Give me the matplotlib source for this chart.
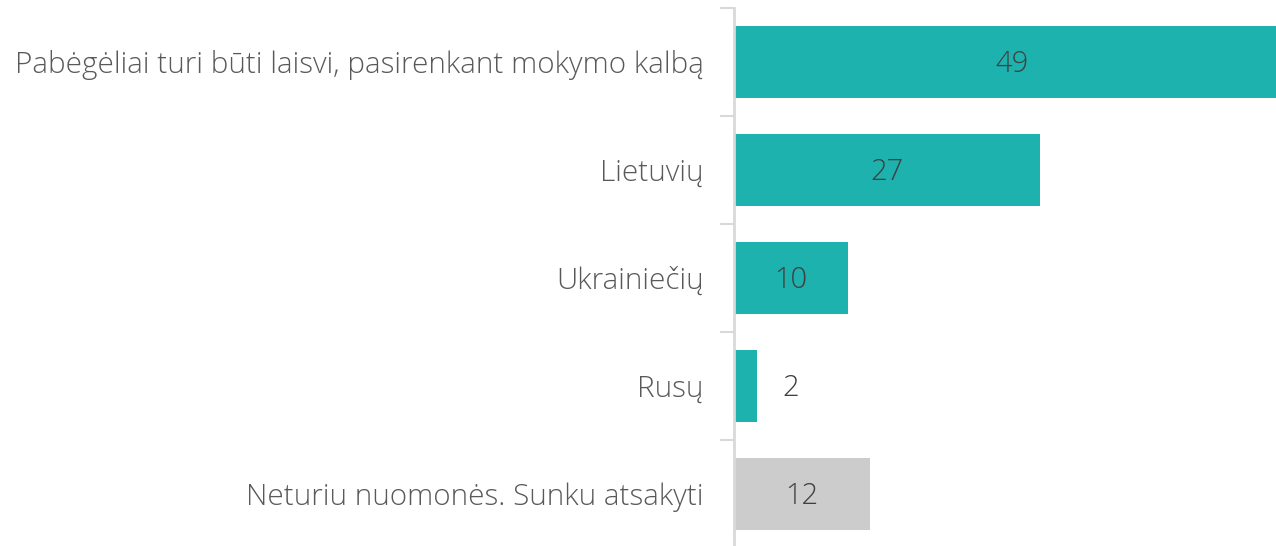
import matplotlib.pyplot as plt

categories = ["Pabėgėliai turi būti laisvi, pasirenkant mokymo kalbą",
              "Lietuvių", "Ukrainiečių", "Rusų",
              "Neturiu nuomonės. Sunku atsakyti"]
values = [49, 27, 10, 2, 12]
colors = ["#1DB2AE", "#1DB2AE", "#1DB2AE", "#1DB2AE", "#CCCCCC"]

plt.rcParams['font.family'] = ['Open Sans', 'DejaVu Sans']

fig = plt.figure(figsize=(12.76, 5.46), dpi=100)
ax = fig.add_axes([734 / 1276, -2 / 546, 1 - 734 / 1276, 540 / 546])

y = list(range(len(categories)))
ax.barh(y, values, height=0.667, color=colors, zorder=2)
ax.set_ylim(len(categories) - 0.5, -0.5)
ax.set_xlim(0, 47.75)

for yi, v in zip(y, values):
    xpos = v / 2 if v >= 5 else v + 3
    ax.text(xpos, yi + 0.02, str(v), ha='center', va='center', fontsize=21,
            color='#404040', fontweight='light')

# category boundary ticks + labels in the middle
ax.set_yticks([i - 0.5 for i in range(len(categories) + 1)])
ax.set_yticklabels([])
ax.set_yticks(y, minor=True)
ax.set_yticklabels(categories, minor=True, fontsize=21.3, color='#595959',
                   fontweight='light')
ax.tick_params(axis='y', which='major', length=10, width=1.5, color='#D9D9D9')
ax.tick_params(axis='y', which='minor', length=0, pad=22)
ax.set_xticks([])

for s in ['top', 'right', 'bottom']:
    ax.spines[s].set_visible(False)
ax.spines['left'].set_color('#D9D9D9')
ax.spines['left'].set_linewidth(2)

fig.savefig("out.png", dpi=100)
